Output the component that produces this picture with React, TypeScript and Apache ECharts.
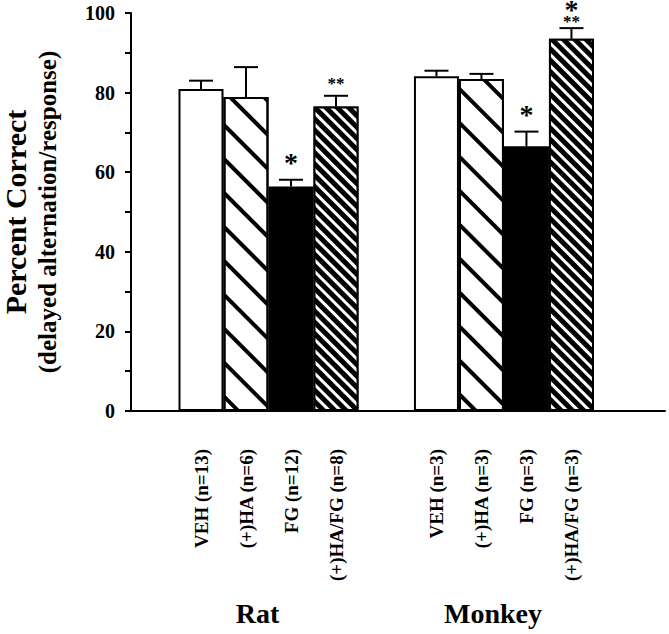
import React, { useEffect, useRef } from "react";
import * as echarts from "echarts";

// ---- data ----
const groups = ["Rat", "Monkey"];
const treatments = ["VEH", "(+)HA", "FG", "(+)HA/FG"];
const ratN = [13, 6, 12, 8];
const monkeyN = [3, 3, 3, 3];
const ratMean = [80.9, 78.9, 56.4, 76.5];
const ratSem = [2.1, 7.5, 1.7, 2.7];
const monkeyMean = [84.1, 83.4, 66.5, 93.5];
const monkeySem = [1.4, 1.3, 3.7, 2.7];
const ratStars = ["", "", "*", "**"];
const monkeyStars = ["", "", "*", "*/**"];
const yTicks = [0, 20, 40, 60, 80, 100];

const means = [ratMean, monkeyMean];
const sems = [ratSem, monkeySem];
const counts = [ratN, monkeyN];
const stars = [ratStars, monkeyStars];

const FONT = "'Liberation Serif', 'Times New Roman', serif";
const BAR_W = 45;
const CAP = 24;

const fills = [
  { color: "#ffffff" },
  {
    color: "#ffffff",
    decal: {
      symbol: "rect",
      color: "#000000",
      dashArrayX: [1, 0],
      dashArrayY: [4, 20],
      rotation: Math.PI / 4,
      symbolSize: 1,
    },
  },
  { color: "#000000" },
  {
    color: "#000000",
    decal: {
      symbol: "rect",
      color: "#ffffff",
      dashArrayX: [1, 0],
      dashArrayY: [3, 5],
      rotation: Math.PI / 4,
      symbolSize: 1,
    },
  },
];

export default function App() {
  const ref = useRef<HTMLDivElement>(null);
  useEffect(() => {
    if (!ref.current) return;
    const chart = echarts.init(ref.current, null, { renderer: "svg" });

    const barSeries = treatments.map((t, ti) => ({
      type: "bar",
      name: t,
      barWidth: BAR_W,
      barGap: "0%",
      data: groups.map((g, gi) => [gi + 1, means[gi][ti]]),
      itemStyle: {
        color: fills[ti].color,
        decal: (fills[ti] as any).decal,
        borderColor: "#000",
        borderWidth: 2,
      },
      label: {
        show: true,
        position: "bottom",
        distance: 38,
        rotate: 90,
        align: "right",
        verticalAlign: "middle",
        fontFamily: FONT,
        fontWeight: "bold",
        fontSize: 19,
        color: "#000",
        formatter: (p: any) => `${t} (n=${counts[p.dataIndex][ti]})`,
      },
      emphasis: { disabled: true },
      z: 2,
    }));

    const errData: number[][] = [];
    groups.forEach((g, gi) =>
      treatments.forEach((t, ti) =>
        errData.push([gi + 1, ti, means[gi][ti], means[gi][ti] + sems[gi][ti]])
      )
    );

    const errSeries = {
      type: "custom",
      z: 5,
      data: errData,
      encode: { x: 0, y: 3 },
      renderItem: (params: any, api: any) => {
        const gx = api.value(0);
        const ti = api.value(1);
        const mean = api.value(2);
        const upper = api.value(3);
        const base = api.coord([gx, mean]);
        const top = api.coord([gx, upper]);
        const x = base[0] + (ti - 1.5) * BAR_W;
        const gi = Math.floor(params.dataIndex / treatments.length);
        const children: any[] = [
          {
            type: "line",
            shape: { x1: x, y1: base[1], x2: x, y2: top[1] },
            style: { stroke: "#000", lineWidth: 2 },
          },
          {
            type: "line",
            shape: { x1: x - CAP / 2, y1: top[1], x2: x + CAP / 2, y2: top[1] },
            style: { stroke: "#000", lineWidth: 2 },
          },
        ];
        const s = stars[gi][ti];
        if (s) {
          const parts = s.split("/");
          const stacked = parts.length > 1;
          const text = parts
            .map((part: string) => (part === "*" ? `{b|${part}}` : `{s|${part}}`))
            .join("\n");
          const gap = stacked ? 2 : parts[0] === "*" ? 11 : 7;
          children.push({
            type: "text",
            x: x,
            y: top[1] - gap,
            style: {
              text,
              align: "center",
              verticalAlign: "bottom",
              fill: "#000",
              rich: {
                b: { fontFamily: FONT, fontWeight: "bold", fontSize: 28, lineHeight: 13, fill: "#000", align: "center" },
                s: { fontFamily: FONT, fontWeight: "bold", fontSize: 17, lineHeight: 10, fill: "#000", align: "center" },
              },
            },
          });
        }
        return { type: "group", children };
      },
    };

    chart.setOption({
      animation: false,
      backgroundColor: "#fff",
      grid: {
        left: 131,
        right: 4,
        top: 13,
        bottom: 223,
        containLabel: false,
        outerBoundsMode: "none",
      },
      xAxis: {
        type: "value",
        min: 0.416,
        max: 2.684,
        splitLine: { show: false },
        axisLine: { show: true, lineStyle: { color: "#000", width: 2 } },
        axisTick: { show: false },
        axisLabel: {
          show: true,
          customValues: [1, 2],
          margin: 188,
          padding: [0, 22, 0, 0],
          formatter: (v: number) => groups[Math.round(v) - 1] ?? "",
          fontFamily: FONT,
          fontWeight: "bold",
          fontSize: 28,
          color: "#000",
        },
      },
      yAxis: {
        type: "value",
        min: 0,
        max: 100,
        interval: 20,
        splitLine: { show: false },
        axisLine: { show: true, lineStyle: { color: "#000", width: 2 } },
        axisTick: { show: true, inside: false, length: 6, lineStyle: { color: "#000", width: 2 } },
        minorTick: { show: true, splitNumber: 2, length: 6, lineStyle: { color: "#000", width: 2 } },
        axisLabel: {
          margin: 16,
          fontFamily: FONT,
          fontWeight: "bold",
          fontSize: 20,
          color: "#000",
          customValues: yTicks,
        },
        name: "{a|Percent Correct}\n{b|(delayed alternation/response)}",
        nameLocation: "middle",
        nameRotate: 90,
        nameGap: 69,
        nameTextStyle: {
          fontFamily: FONT,
          fontWeight: "bold",
          color: "#000",
          align: "center",
          rich: {
            a: { fontFamily: FONT, fontWeight: "bold", fontSize: 30, lineHeight: 34, color: "#000" },
            b: { fontFamily: FONT, fontWeight: "bold", fontSize: 25, lineHeight: 30, color: "#000" },
          },
        },
      },
      series: [...barSeries, errSeries],
    } as any);

    return () => chart.dispose();
  }, []);
  return (
    <div
      ref={ref}
      style={{ position: "absolute", left: 0, top: 0, width: 669, height: 634 }}
    />
  );
}
